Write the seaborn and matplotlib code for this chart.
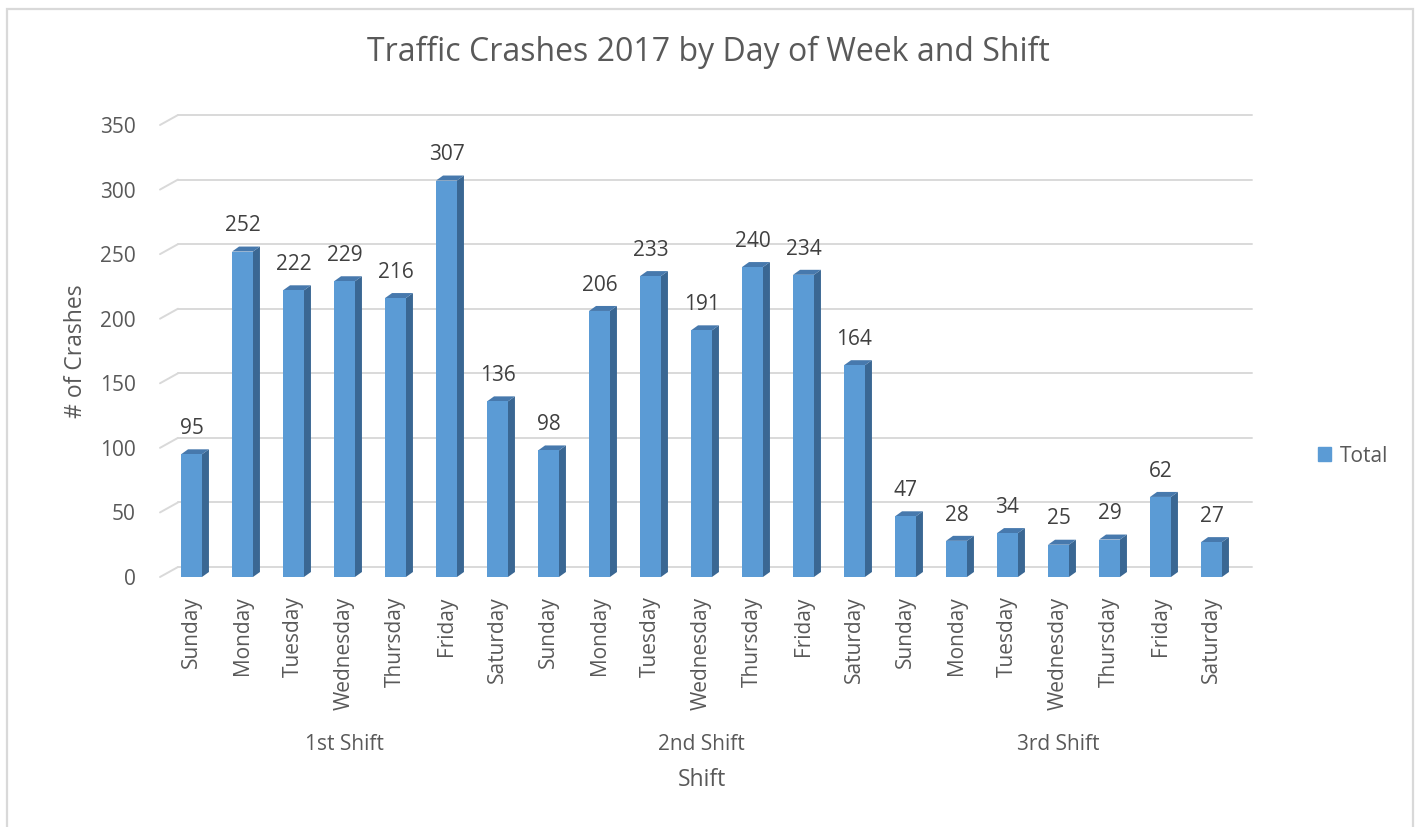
import numpy as np
import pandas as pd
import matplotlib.pyplot as plt
import matplotlib.transforms as mtransforms
from matplotlib.patches import Polygon, Patch, Rectangle
import seaborn as sns

# Crash totals per shift and day of week
shifts = ["1st Shift", "2nd Shift", "3rd Shift"]
days = ["Sunday", "Monday", "Tuesday", "Wednesday", "Thursday", "Friday", "Saturday"]
first_shift = [95, 252, 222, 229, 216, 307, 136]
second_shift = [98, 206, 233, 191, 240, 234, 164]
third_shift = [47, 28, 34, 25, 29, 62, 27]

df = pd.DataFrame({
    "shift": np.repeat(shifts, len(days)),
    "day": days * len(shifts),
    "total": first_shift + second_shift + third_shift,
})
df["slot"] = np.arange(len(df))

sns.set_style("white")
plt.rcParams["font.family"] = ["Open Sans", "DejaVu Sans"]

front_col = "#5B9BD5"
side_col = "#3A6793"
top_col = "#4779AD"
grid_col = "#D9D9D9"
text_col = "#595959"

W, H = 1417, 827
fig = plt.figure(figsize=(W / 100, H / 100), dpi=100)
ax = fig.add_axes([166 / W, (H - 577) / H, 1071 / W, 452 / H])

sns.barplot(data=df, x="slot", y="total", color=front_col, width=0.41,
            linewidth=0, saturation=1, ax=ax, zorder=3)
ax.set_ylim(0, 350)
ax.set_xlim(-0.5, len(df) - 0.5)
for s in ax.spines.values():
    s.set_visible(False)

# back-wall gridlines with a small perspective offset
yticks = np.arange(0, 351, 50)
ytr = ax.get_yaxis_transform()
off = mtransforms.ScaledTranslation(0.18, 0.10, fig.dpi_scale_trans)
x0 = -6 / 1071
x1 = (1252 - 166 - 18) / 1071
for v in yticks:
    ax.plot([x0, x1], [v, v], transform=ytr + off, color=grid_col, lw=1.4,
            clip_on=False, zorder=1)
    # diagonal join at the left edge
    p0 = ytr.transform((x0, v))
    p1 = p0 + np.array([18, 10])
    ax.plot([p0[0], p1[0]], [p0[1], p1[1]], transform=None, color=grid_col, lw=1.4,
            clip_on=False, zorder=1)

# 3D side and top faces
fig.canvas.draw()
inv = ax.transData.inverted()
dpx = np.array([7, 5])
for bar in ax.patches:
    x, w, h = bar.get_x(), bar.get_width(), bar.get_height()
    a = ax.transData.transform([(x + w, 0), (x + w, h), (x, h)])
    side = inv.transform([a[0], a[1], a[1] + dpx, a[0] + dpx])
    top = inv.transform([a[2], a[1], a[1] + dpx, a[2] + dpx])
    ax.add_patch(Polygon(side, closed=True, color=side_col, lw=0, zorder=2.9, clip_on=False))
    ax.add_patch(Polygon(top, closed=True, color=top_col, lw=0, zorder=2.9, clip_on=False))

ax.bar_label(ax.containers[0], padding=11, fontsize=15, color="#404040")

ax.set_yticks(yticks)
ax.set_xticks(df["slot"])
ax.set_xticklabels(df["day"], rotation=90, va="top")
ax.tick_params(axis="y", length=0, pad=22, labelsize=15, labelcolor=text_col)
ax.tick_params(axis="x", length=0, pad=14, labelsize=15, labelcolor=text_col)
ax.set_xlabel("")
ax.set_ylabel("# of Crashes", fontsize=16.5, color=text_col, labelpad=8)

# shift group labels
btr = mtransforms.blended_transform_factory(ax.transData, fig.transFigure)
for s in shifts:
    centre = df.loc[df["shift"] == s, "slot"].mean()
    ax.text(centre, 1 - 744 / H, s, transform=btr, ha="center", va="center",
            fontsize=15, color=text_col)
fig.text(ax.get_position().x0 + ax.get_position().width / 2, 1 - 780 / H, "Shift",
         ha="center", va="center", fontsize=16.5, color=text_col)

fig.text(0.5, 1 - 52 / H, "Traffic Crashes 2017 by Day of Week and Shift",
         ha="center", va="center", fontsize=23, color=text_col)

fig.legend(handles=[Patch(color=front_col, label="Total")], loc="center left",
           bbox_to_anchor=(1299 / W, 1 - 456 / H), frameon=False, fontsize=15,
           handlelength=0.65, handleheight=0.65, handletextpad=0.4,
           labelcolor=text_col)

fig.patches.append(Rectangle((7 / W, -0.05), 1406 / W, 1.05 - 9 / H, transform=fig.transFigure,
                             fill=False, edgecolor=grid_col, lw=1.6))

fig.savefig("out.png", dpi=100)
